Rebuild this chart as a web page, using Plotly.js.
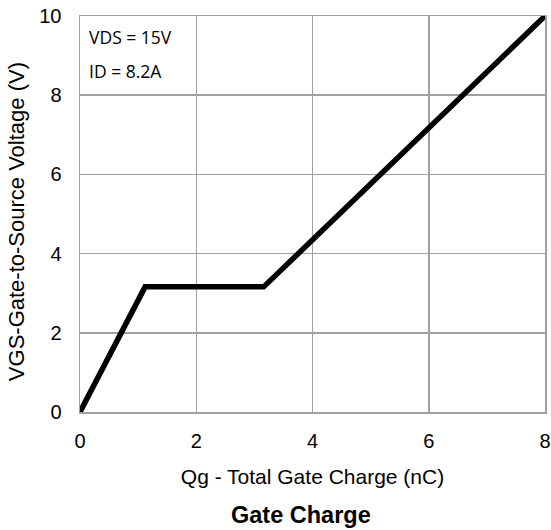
<!DOCTYPE html>
<html>
<head>
<meta charset="utf-8">
<script src="https://cdn.plot.ly/plotly-3.0.1.min.js"></script>
<style>html,body{margin:0;padding:0;background:#fff;}#chart{width:551px;height:530px;}</style>
</head>
<body>
<div id="chart"></div>
<script>
const qg = [0, 1.12, 3.16, 8];
const vgs = [0, 3.16, 3.16, 10];
const xTicks = [0, 2, 4, 6, 8];
const yTicks = [0, 2, 4, 6, 8, 10];

const trace = {
  x: qg, y: vgs, mode: 'lines', type: 'scatter',
  line: {color: '#000', width: 5.5}, hoverinfo: 'skip'
};
const gridC = '#a0a0a0';
const layout = {
  width: 551, height: 530,
  margin: {l: 80, r: 6, t: 16, b: 118},
  paper_bgcolor: '#fff', plot_bgcolor: '#fff',
  showlegend: false,
  font: {family: 'Liberation Sans, Arial, sans-serif', color: '#000', size: 20},
  xaxis: {
    range: [0, 8], tickvals: xTicks, ticktext: xTicks.map(String),
    showgrid: true, gridcolor: gridC, gridwidth: 1.5,
    showline: true, linecolor: gridC, linewidth: 1.5, mirror: true,
    zeroline: false, ticks: '', ticklabelstandoff: 10,
    tickfont: {size: 20},
    title: {text: 'Qg - Total Gate Charge (nC)', font: {size: 21}, standoff: 19}
  },
  yaxis: {
    range: [0, 10], tickvals: yTicks, ticktext: yTicks.map(String),
    showgrid: true, gridcolor: gridC, gridwidth: 1.5,
    showline: true, linecolor: gridC, linewidth: 1.5, mirror: true,
    zeroline: false, ticks: '', ticklabelstandoff: 13,
    tickfont: {size: 20}
  },
  annotations: [
    {xref: 'paper', yref: 'paper', x: -0.135, y: 0.48, xanchor: 'center', yanchor: 'middle',
     textangle: -90, text: 'VGS-Gate-to-Source Voltage (V)', showarrow: false, font: {size: 22}},
    {xref: 'paper', yref: 'paper', x: 0.475, y: -0.26, xanchor: 'center', yanchor: 'middle',
     text: '<b>Gate Charge</b>', showarrow: false, font: {size: 23.5}},
    {xref: 'paper', yref: 'paper', x: 0.014, y: 0.947, xanchor: 'left', yanchor: 'middle',
     text: 'VDS = 15V', showarrow: false, font: {family: 'Open Sans, sans-serif', size: 17.5}},
    {xref: 'paper', yref: 'paper', x: 0.014, y: 0.86, xanchor: 'left', yanchor: 'middle',
     text: 'ID = 8.2A', showarrow: false, font: {family: 'Open Sans, sans-serif', size: 17.5}}
  ]
};
Plotly.newPlot('chart', [trace], layout, {displayModeBar: false, staticPlot: true});
</script>
</body>
</html>
